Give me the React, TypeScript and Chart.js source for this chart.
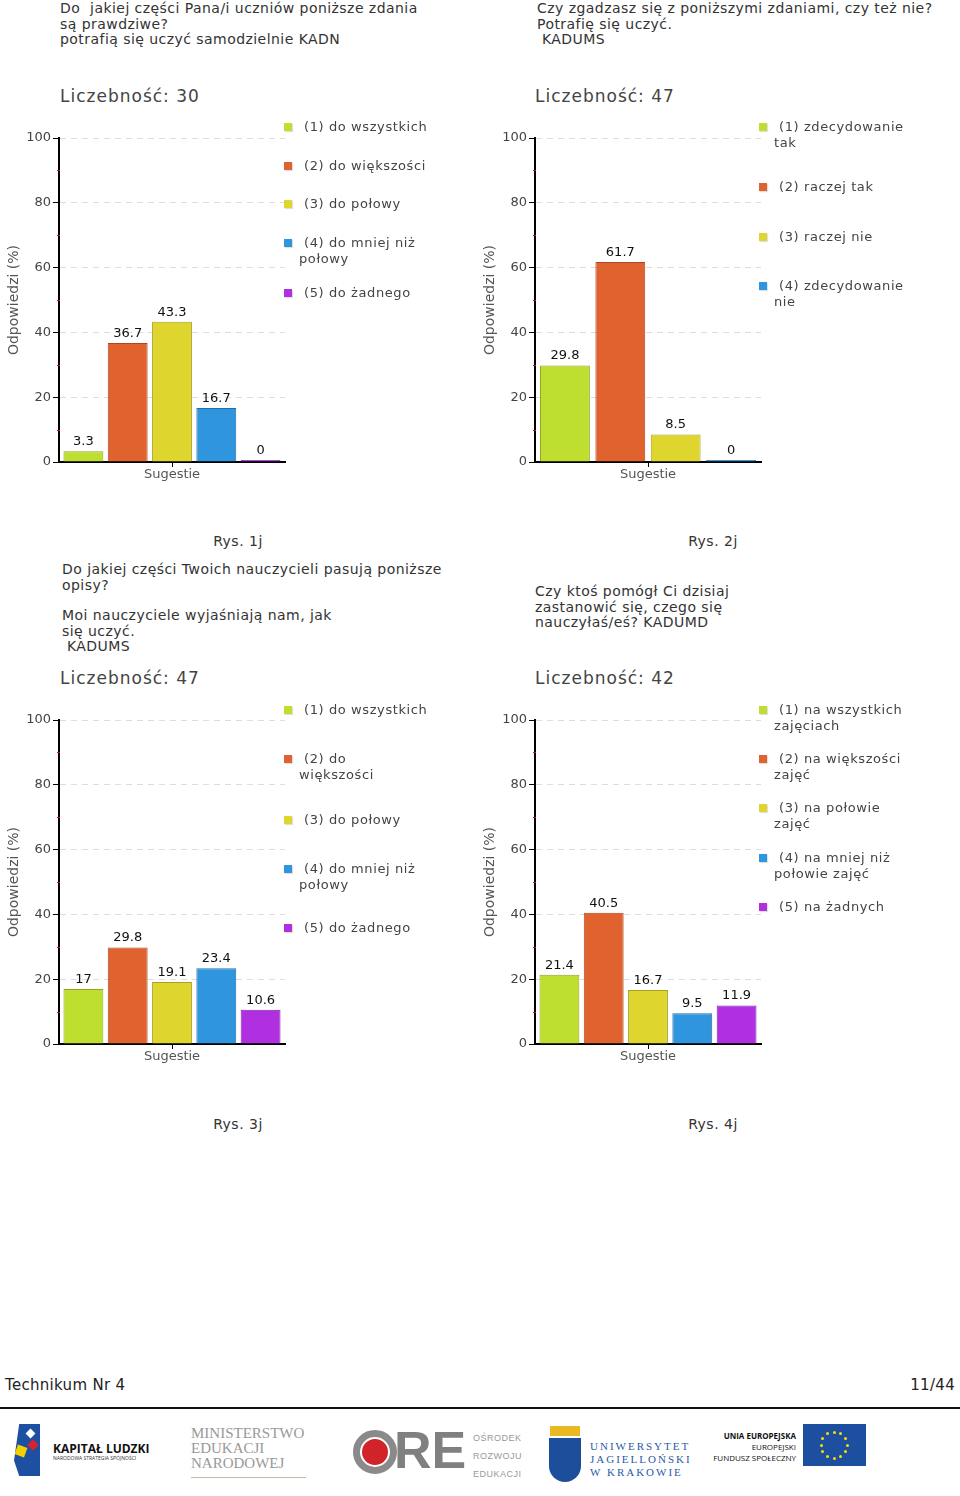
import React, { useEffect, useRef } from "react";
import { Chart, registerables } from "chart.js";

Chart.register(...registerables);

// ---------- data ----------
const categories = ["Sugestie"];
const yTickStep = 20;
const yMin = 0;
const yMax = 100;
const minorTickValues = [10, 30, 50, 70, 90];

const labels1 = ["(1) do wszystkich", "(2) do większości", "(3) do połowy", "(4) do mniej niż|połowy", "(5) do żadnego"];
const values1 = [3.3, 36.7, 43.3, 16.7, 0];

const labels2 = ["(1) zdecydowanie|tak", "(2) raczej tak", "(3) raczej nie", "(4) zdecydowanie|nie"];
const values2 = [29.8, 61.7, 8.5, 0];

const labels3 = ["(1) do wszystkich", "(2) do|większości", "(3) do połowy", "(4) do mniej niż|połowy", "(5) do żadnego"];
const values3 = [17, 29.8, 19.1, 23.4, 10.6];

const labels4 = ["(1) na wszystkich|zajęciach", "(2) na większości|zajęć", "(3) na połowie|zajęć", "(4) na mniej niż|połowie zajęć", "(5) na żadnych"];
const values4 = [21.4, 40.5, 16.7, 9.5, 11.9];

const counts = [30, 47, 47, 42];
const captions = ["Rys. 1j", "Rys. 2j", "Rys. 3j", "Rys. 4j"];

const header1 = ["Do  jakiej części Pana/i uczniów poniższe zdania", "są prawdziwe?", "potrafią się uczyć samodzielnie KADN"];
const header2 = ["Czy zgadzasz się z poniższymi zdaniami, czy też nie?", "Potrafię się uczyć.", " KADUMS"];
const header3a = ["Do jakiej części Twoich nauczycieli pasują poniższe", "opisy?"];
const header3b = ["Moi nauczyciele wyjaśniają nam, jak", "się uczyć.", " KADUMS"];
const header4 = ["Czy ktoś pomógł Ci dzisiaj", "zastanowić się, czego się", "nauczyłaś/eś? KADUMD"];

const yTitle = "Odpowiedzi (%)";
const countLabel = "Liczebność:";
const footerLeft = "Technikum Nr 4";
const footerRight = "11/44";

// ---------- styles ----------
const FONT = '"DejaVu Sans", Verdana, sans-serif';
const fills = ["#bedf2f", "#e0632f", "#dfd52f", "#2f95df", "#b02fe0"];
const borders = ["#8ea522", "#a9481f", "#a8a020", "#206fa8", "#8222a8"];

const valueLabelPlugin = {
  id: "valueLabels",
  afterDatasetsDraw(chart: any) {
    const ctx = chart.ctx;
    ctx.save();
    ctx.font = `13px ${FONT}`;
    ctx.fillStyle = "#111";
    ctx.textAlign = "center";
    ctx.textBaseline = "bottom";
    chart.data.datasets.forEach((ds: any, i: number) => {
      const meta = chart.getDatasetMeta(i);
      meta.data.forEach((el: any, j: number) => {
        const v = ds.data[j];
        ctx.fillText(String(v), el.x, el.y - 3);
      });
    });
    ctx.restore();
  },
};

const minorTickPlugin = {
  id: "minorTicks",
  afterDraw(chart: any) {
    const ctx = chart.ctx;
    const y = chart.scales.y;
    const x0 = chart.chartArea.left;
    ctx.save();
    ctx.strokeStyle = "#cc1111";
    ctx.lineWidth = 1;
    minorTickValues.forEach((v) => {
      const py = Math.round(y.getPixelForValue(v)) + 0.5;
      ctx.beginPath();
      ctx.moveTo(x0 - 2, py);
      ctx.lineTo(x0 + 1, py);
      ctx.stroke();
    });
    ctx.restore();
  },
};

function BarPanel({ left, top, values, labels }: { left: number; top: number; values: number[]; labels: string[] }) {
  const ref = useRef<HTMLCanvasElement | null>(null);
  useEffect(() => {
    if (!ref.current) return;
    const chart = new Chart(ref.current, {
      type: "bar",
      data: {
        labels: categories,
        datasets: values.map((v, i) => ({
          label: labels[i].replace("|", " "),
          data: [v],
          backgroundColor: fills[i],
          borderColor: borders[i],
          borderWidth: 1,
          barPercentage: 0.9,
          categoryPercentage: 0.98,
          minBarLength: 2,
        })),
      },
      options: {
        animation: false,
        responsive: false,
        maintainAspectRatio: false,
        layout: { padding: { top: 18, right: 5, left: 0, bottom: 0 } },
        plugins: { legend: { display: false }, tooltip: { enabled: false } },
        scales: {
          x: {
            grid: { display: true, drawOnChartArea: false, offset: false, tickColor: "#000", tickLength: 5, tickWidth: 1 },
            border: { color: "#000", width: 2 },
            ticks: { color: "#555", font: { family: FONT, size: 13 }, padding: 0 },
            afterFit: (s: any) => {
              s.height = 28;
            },
          },
          y: {
            min: yMin,
            max: yMax,
            ticks: { stepSize: yTickStep, color: "#444", font: { family: FONT, size: 13 }, padding: 2 },
            grid: { color: "#dddddd", tickColor: "#000", tickLength: 6, tickWidth: 1 },
            border: { color: "#000", width: 2, dash: [6, 5] },
            title: { display: true, text: yTitle, color: "#555", font: { family: FONT, size: 14 }, padding: { top: 6, bottom: 0 } },
            afterFit: (s: any) => {
              s.width = 59;
            },
          },
        },
      } as any,
      plugins: [valueLabelPlugin, minorTickPlugin],
    });
    return () => chart.destroy();
  }, []);
  return (
    <canvas
      ref={ref}
      width={290}
      height={370}
      style={{ position: "absolute", left, top, width: 290, height: 370 }}
    />
  );
}

function Legend({ left, textLeft, tops, labels }: { left: number; textLeft: number; tops: number[]; labels: string[] }) {
  return (
    <>
      {labels.map((lab, i) => {
        const lines = lab.split("|");
        return (
          <div key={i} style={{ position: "absolute", left: 0, top: tops[i] - 8, width: 0, height: 0 }}>
            <div
              style={{
                position: "absolute",
                left,
                top: 4,
                width: 8,
                height: 8,
                background: fills[i],
                boxShadow: "1px 1px 1px rgba(0,0,0,0.12)",
              }}
            />
            <div
              style={{
                position: "absolute",
                left: textLeft,
                top: 0,
                whiteSpace: "nowrap",
                font: `13px ${FONT}`,
                letterSpacing: "0.6px",
                lineHeight: "15.5px",
                color: "#444",
              }}
            >
              {lines.map((l, k) => (
                <div key={k} style={{ paddingLeft: k === 0 ? 5 : 0 }}>
                  {l}
                </div>
              ))}
            </div>
          </div>
        );
      })}
    </>
  );
}

const headerStyle: React.CSSProperties = {
  position: "absolute",
  font: `14px ${FONT}`,
  letterSpacing: "0.45px",
  lineHeight: "15.5px",
  color: "#333",
  whiteSpace: "pre",
};

function Lines({ left, top, lines }: { left: number; top: number; lines: string[] }) {
  return (
    <div style={{ ...headerStyle, left, top }}>
      {lines.map((l, i) => (
        <div key={i}>{l}</div>
      ))}
    </div>
  );
}

function Count({ left, centerY, n }: { left: number; centerY: number; n: number }) {
  return (
    <div
      style={{
        position: "absolute",
        left,
        top: centerY - 11,
        font: `17px ${FONT}`,
        letterSpacing: "1px",
        lineHeight: "22px",
        color: "#444",
        whiteSpace: "pre",
      }}
    >
      {`${countLabel} ${n}`}
    </div>
  );
}

function Caption({ cx, cy, text }: { cx: number; cy: number; text: string }) {
  return (
    <div
      style={{
        position: "absolute",
        left: cx - 60,
        width: 120,
        top: cy - 9,
        textAlign: "center",
        font: `14px ${FONT}`,
        letterSpacing: "0.5px",
        lineHeight: "18px",
        color: "#333",
      }}
    >
      {text}
    </div>
  );
}

function EuStars() {
  const stars = [];
  for (let i = 0; i < 12; i++) {
    const a = (i / 12) * Math.PI * 2;
    stars.push(
      <div
        key={i}
        style={{
          position: "absolute",
          left: 31 + Math.cos(a) * 13 - 1.5,
          top: 21 + Math.sin(a) * 13 - 1.5,
          width: 3,
          height: 3,
          borderRadius: 2,
          background: "#ffdd00",
        }}
      />
    );
  }
  return <>{stars}</>;
}

function Logos() {
  return (
    <>
      {/* Kapitał Ludzki */}
      <div style={{ position: "absolute", left: 14, top: 1424, width: 26, height: 52, background: "#1d50a0", clipPath: "polygon(20% 0, 100% 0, 100% 100%, 20% 100%, 0 70%)" }} />
      <div style={{ position: "absolute", left: 16, top: 1446, width: 10, height: 10, background: "#f5d000", transform: "rotate(20deg)" }} />
      <div style={{ position: "absolute", left: 29, top: 1441, width: 8, height: 8, background: "#d8232a", transform: "rotate(45deg)" }} />
      <div style={{ position: "absolute", left: 27, top: 1430, width: 7, height: 7, background: "#fff", transform: "rotate(45deg)" }} />
      <div style={{ position: "absolute", left: 53, top: 1440, font: `bold 12px "Open Sans", sans-serif`, color: "#111", whiteSpace: "nowrap" }}>KAPITAŁ LUDZKI</div>
      <div style={{ position: "absolute", left: 53, top: 1455, font: `5px "Open Sans", sans-serif`, color: "#333", whiteSpace: "nowrap" }}>NARODOWA STRATEGIA SPÓJNOŚCI</div>
      {/* MEN */}
      <div style={{ position: "absolute", left: 191, top: 1426, font: `15px "Liberation Serif", serif`, lineHeight: "15px", color: "#999", whiteSpace: "pre" }}>
        {"MINISTERSTWO\nEDUKACJI\nNARODOWEJ"}
      </div>
      <div style={{ position: "absolute", left: 191, top: 1477, width: 115, height: 1, background: "#c8b8a8" }} />
      {/* ORE */}
      <div style={{ position: "absolute", left: 353, top: 1430, width: 30, height: 30, borderRadius: "50%", border: "7px solid #8a8a8a" }} />
      <div style={{ position: "absolute", left: 362, top: 1439, width: 26, height: 26, borderRadius: "50%", background: "#d0232a" }} />
      <div style={{ position: "absolute", left: 394, top: 1420, font: `bold 52px "Liberation Sans", sans-serif`, lineHeight: "60px", color: "#808080" }}>RE</div>
      <div style={{ position: "absolute", left: 473, top: 1429, font: `9px "Liberation Sans", sans-serif`, lineHeight: "18px", color: "#999", whiteSpace: "pre", letterSpacing: "0.5px" }}>
        {"OŚRODEK\nROZWOJU\nEDUKACJI"}
      </div>
      {/* UJ */}
      <div style={{ position: "absolute", left: 550, top: 1426, width: 30, height: 10, background: "#e8b923" }} />
      <div style={{ position: "absolute", left: 549, top: 1438, width: 32, height: 44, background: "#1c4e9c", borderRadius: "0 0 16px 16px" }} />
      <div style={{ position: "absolute", left: 590, top: 1440, font: `11px "Liberation Serif", serif`, lineHeight: "13px", color: "#2a5aa8", whiteSpace: "pre", letterSpacing: "2px" }}>
        {"UNIWERSYTET\nJAGIELLOŃSKI\nW KRAKOWIE"}
      </div>
      {/* EU */}
      <div style={{ position: "absolute", left: 700, top: 1430, width: 96, font: `bold 8px "Open Sans", sans-serif`, lineHeight: "11px", color: "#111", textAlign: "right", whiteSpace: "pre" }}>
        {"UNIA EUROPEJSKA\n"}
        <span style={{ fontWeight: "normal" }}>{"EUROPEJSKI\nFUNDUSZ SPOŁECZNY"}</span>
      </div>
      <div style={{ position: "absolute", left: 803, top: 1424, width: 63, height: 42, background: "#1d4fa0" }}>
        <EuStars />
      </div>
    </>
  );
}

export default function App() {
  return (
    <div style={{ position: "absolute", left: 0, top: 0, width: 960, height: 1496, background: "#fff", overflow: "hidden" }}>
      {/* top-left */}
      <Lines left={60} top={1} lines={header1} />
      <Count left={60} centerY={96} n={counts[0]} />
      <BarPanel left={0} top={120} values={values1} labels={labels1} />
      <Legend left={284} textLeft={299} tops={[127, 166, 204, 243, 293]} labels={labels1} />
      <Caption cx={238} cy={541} text={captions[0]} />

      {/* top-right */}
      <Lines left={537} top={1} lines={header2} />
      <Count left={535} centerY={96} n={counts[1]} />
      <BarPanel left={476} top={120} values={values2} labels={labels2} />
      <Legend left={759} textLeft={774} tops={[127, 187, 237, 286]} labels={labels2} />
      <Caption cx={713} cy={541} text={captions[1]} />

      {/* bottom-left */}
      <Lines left={62} top={562} lines={header3a} />
      <Lines left={62} top={608} lines={header3b} />
      <Count left={60} centerY={678} n={counts[2]} />
      <BarPanel left={0} top={702} values={values3} labels={labels3} />
      <Legend left={284} textLeft={299} tops={[710, 759, 820, 869, 928]} labels={labels3} />
      <Caption cx={238} cy={1124} text={captions[2]} />

      {/* bottom-right */}
      <Lines left={535} top={584} lines={header4} />
      <Count left={535} centerY={678} n={counts[3]} />
      <BarPanel left={476} top={702} values={values4} labels={labels4} />
      <Legend left={759} textLeft={774} tops={[710, 759, 808, 858, 907]} labels={labels4} />
      <Caption cx={713} cy={1124} text={captions[3]} />

      {/* footer */}
      <div style={{ position: "absolute", left: 5, top: 1375, font: `15px ${FONT}`, letterSpacing: "0.3px", lineHeight: "20px", color: "#222" }}>{footerLeft}</div>
      <div style={{ position: "absolute", right: 5, top: 1375, font: `15px ${FONT}`, letterSpacing: "0.3px", lineHeight: "20px", color: "#222" }}>{footerRight}</div>
      <div style={{ position: "absolute", left: 0, top: 1407, width: 960, height: 2, background: "#111" }} />
      <Logos />
    </div>
  );
}
